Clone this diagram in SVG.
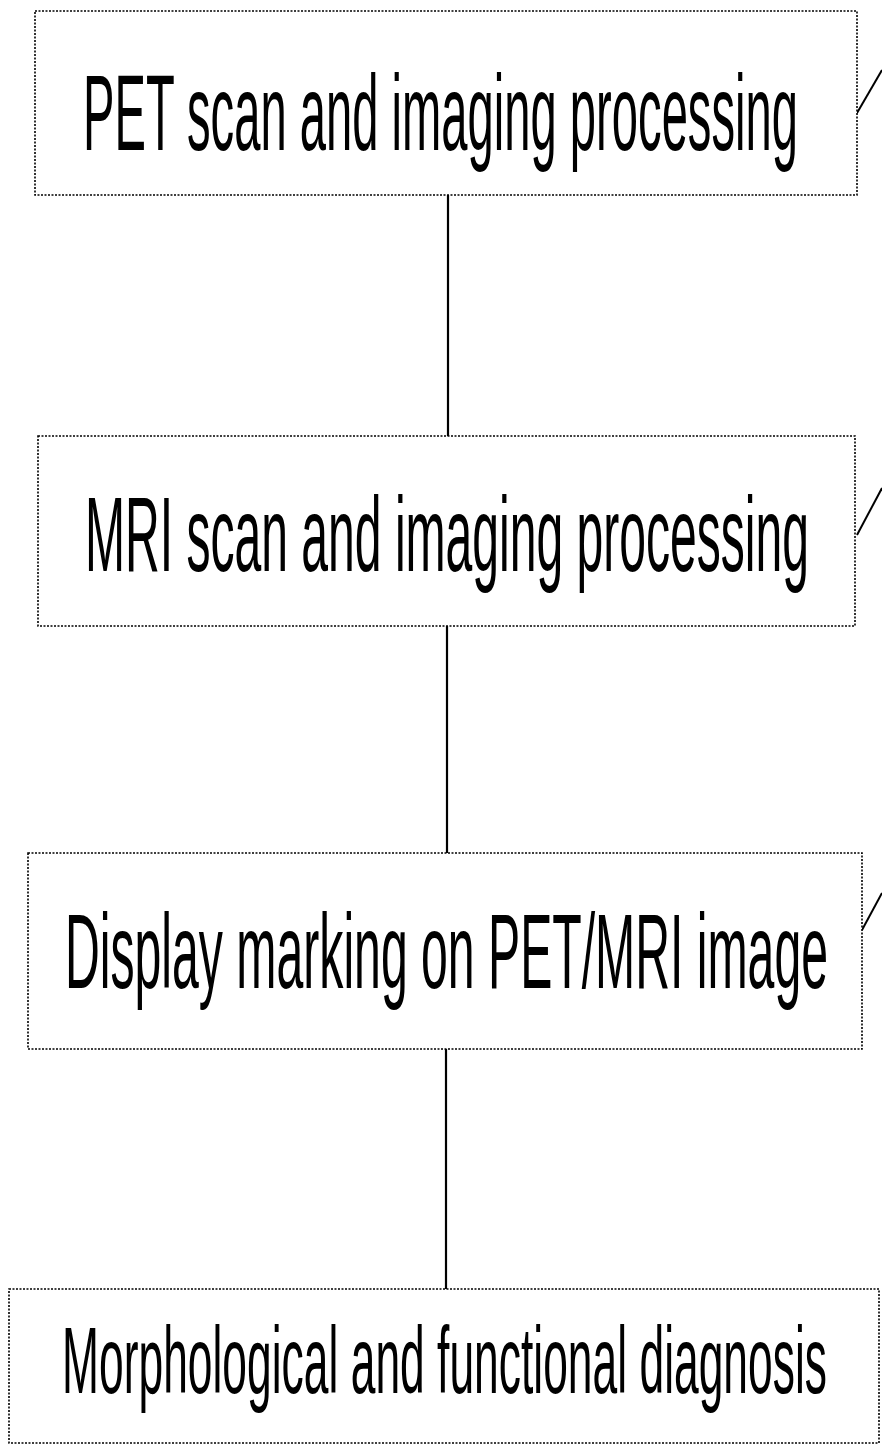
<svg xmlns="http://www.w3.org/2000/svg" width="882" height="1450" viewBox="0 0 882 1450">
<style>
.box{fill:#fff;stroke:#000;stroke-width:1.6;stroke-dasharray:2 1.5}
.lbl{font-family:"Liberation Sans",Arial,sans-serif;fill:#000}
.conn{stroke:#000;stroke-width:2.2;fill:none}
.lead{stroke:#000;stroke-width:2;fill:none}
</style>
<rect width="882" height="1450" fill="#fff"/>
<g id="connectors">
<line class="conn" x1="448" y1="195" x2="448" y2="436"/>
<line class="conn" x1="447" y1="626" x2="447" y2="853"/>
<line class="conn" x1="446" y1="1049" x2="446" y2="1289"/>
<line class="lead" x1="857" y1="113" x2="882" y2="70"/>
<line class="lead" x1="857" y1="535" x2="882" y2="488"/>
<line class="lead" x1="862" y1="930" x2="882" y2="893"/>
</g>
<g id="node1">
<rect class="box" x="35" y="11" width="822" height="184"/>
<text class="lbl" x="83" y="150" font-size="107" textLength="715" lengthAdjust="spacingAndGlyphs">PET scan and imaging processing</text>
</g>
<g id="node2">
<rect class="box" x="38" y="436" width="817" height="190"/>
<text class="lbl" x="85" y="571" font-size="105" textLength="724" lengthAdjust="spacingAndGlyphs">MRI scan and imaging processing</text>
</g>
<g id="node3">
<rect class="box" x="28" y="853" width="834" height="196"/>
<text class="lbl" x="65" y="988" font-size="105" textLength="763" lengthAdjust="spacingAndGlyphs">Display marking on PET/MRI image</text>
</g>
<g id="node4">
<rect class="box" x="9" y="1289" width="870" height="154"/>
<text class="lbl" x="62" y="1393" font-size="95" textLength="765" lengthAdjust="spacingAndGlyphs">Morphological and functional diagnosis</text>
</g>
</svg>
